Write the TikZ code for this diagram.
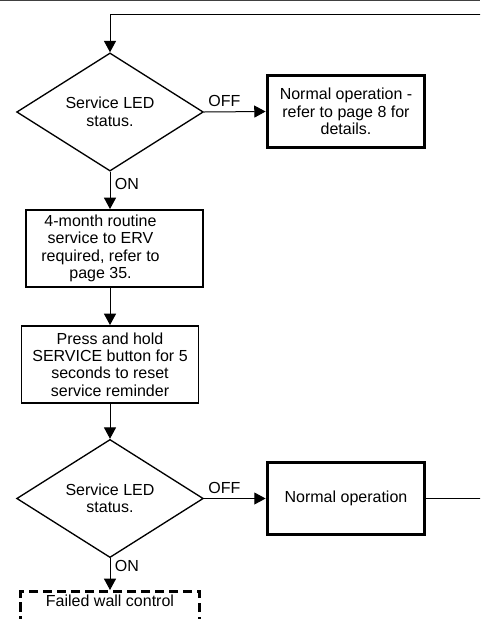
\documentclass[tikz,border=0pt]{standalone}
\usepackage{fontspec}
\setmainfont{Liberation Sans}
\usetikzlibrary{shapes.geometric, arrows.meta, positioning}

\begin{document}
\begin{tikzpicture}[x=0.75pt, y=-0.75pt,
    font=\fontsize{12}{13.1}\selectfont,
    decision/.style={diamond, draw, line width=1pt, minimum width=140pt, minimum height=84pt, inner sep=0pt, align=center},
    stepbox/.style={rectangle, draw, line width=1.2pt, minimum width=133pt, minimum height=58pt, align=center},
    endbox/.style={rectangle, draw, line width=2.6pt, minimum width=118pt, minimum height=54pt, align=center},
    failbox/.style={rectangle, draw, line width=2.3pt, dash pattern=on 7pt off 3.5pt, minimum width=134pt, minimum height=60pt},
    arr/.style={line width=0.75pt, -{Triangle[length=8.5pt, width=9pt]}}]
\useasboundingbox (0,0) rectangle (480,619);
\clip (0,0) rectangle (480,619);

% rule along the top of the page
\draw[line width=1.1pt, black!75] (0,0.7) -- (480,0.7);

% first check of the LED
\node[decision] (led1) at (110,112) {Service LED\\status.};
\node[endbox] (normal1) at (346,111.5) {Normal operation -\\refer to page 8 for\\details.};

% service steps
\node[stepbox, label={[align=center, xshift=-10.5pt]center:4-month routine\\service to ERV\\required, refer to\\page 35.}] (service) at (114.5,248.5) {};
\node[stepbox] (reset) at (110,364.5) {Press and hold\\SERVICE button for 5\\seconds to reset\\service reminder};

% second check of the LED
\node[decision] (led2) at (110,498.5) {Service LED\\status.};
\node[endbox] (normal2) at (346,498.5) {Normal operation};
\node[failbox, anchor=north, label={[anchor=north]north:Failed wall control}] (fail) at (110,590) {};

\draw[arr] (led1.east) -- node[pos=0.33, above] {OFF} (normal1.west);
\draw[arr] (led1.south) -- node[pos=0.34, right] {ON} (led1.south |- service.north);
\draw[arr] (service.south -| reset.north) -- (reset.north);
\draw[arr] (reset.south) -- (led2.north);
\draw[arr] (led2.east) -- node[pos=0.33, above] {OFF} (normal2.west);
\draw[arr] (led2.south) -- node[pos=0.25, right] {ON} (fail.north);

% loop back to the top
\coordinate (back) at (500,14);
\draw[arr] (normal2.east) -| (back) -| (led1.north);
\end{tikzpicture}
\end{document}
